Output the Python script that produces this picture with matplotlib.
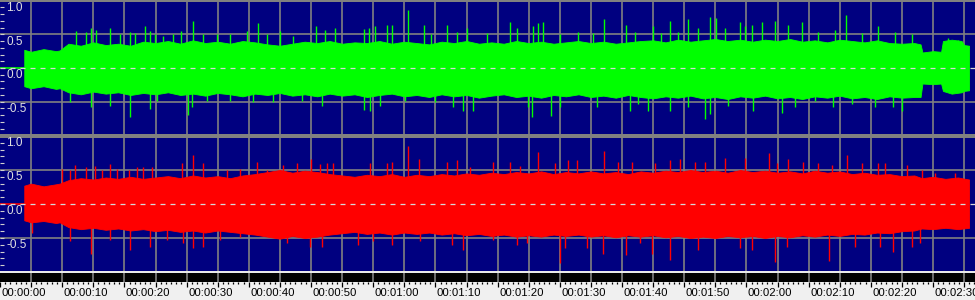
import numpy as np
import matplotlib
matplotlib.use("Agg")
import matplotlib.pyplot as plt
from matplotlib.transforms import blended_transform_factory

plt.rcParams['font.family'] = ['Liberation Sans', 'DejaVu Sans']

# ---- data (seconds / amplitude) ----
t_start = 3.9

mid_t = list(range(11, 148, 2))   # 11, 13, ... 147 s

green_body_t = [3.9, 5, 7, 9, 9.6] + mid_t + [148.0, 148.3, 150, 151.3, 151.6, 153, 154.6, 155.0, 155.8]
green_body_hi = ([0.27, 0.24, 0.28, 0.25, 0.26] +
                 [0.36, 0.33, 0.38, 0.34, 0.36, 0.33, 0.39, 0.37, 0.40, 0.36, 0.41, 0.37, 0.39, 0.36,
                  0.40, 0.38, 0.35, 0.33, 0.36, 0.39, 0.37, 0.40, 0.36, 0.38, 0.37, 0.40, 0.36, 0.39,
                  0.37, 0.35, 0.39, 0.37, 0.40, 0.36, 0.38, 0.36, 0.40, 0.37, 0.39, 0.36, 0.38, 0.40,
                  0.37, 0.39, 0.36, 0.38, 0.40, 0.41, 0.38, 0.42, 0.39, 0.41, 0.43, 0.40, 0.42, 0.39,
                  0.42, 0.40, 0.43, 0.39, 0.41, 0.38, 0.42, 0.40, 0.38, 0.41, 0.37, 0.36, 0.37] +
                 [0.35, 0.23, 0.25, 0.24, 0.40, 0.42, 0.40, 0.34, 0.33])
green_body_lo = ([-0.27, -0.30, -0.27, -0.31, -0.30] +
                 [-0.36, -0.39, -0.35, -0.38, -0.36, -0.40, -0.37, -0.39, -0.36, -0.40, -0.38, -0.41,
                  -0.37, -0.39, -0.42, -0.38, -0.40, -0.37, -0.41, -0.39, -0.42, -0.38, -0.41, -0.39,
                  -0.43, -0.40, -0.38, -0.42, -0.40, -0.43, -0.39, -0.42, -0.40, -0.44, -0.41, -0.39,
                  -0.43, -0.41, -0.44, -0.40, -0.42, -0.39, -0.43, -0.41, -0.44, -0.40, -0.43, -0.45,
                  -0.42, -0.44, -0.41, -0.45, -0.43, -0.46, -0.42, -0.44, -0.41, -0.45, -0.43, -0.46,
                  -0.42, -0.44, -0.41, -0.45, -0.43, -0.46, -0.42, -0.44, -0.43] +
                 [-0.43, -0.23, -0.24, -0.23, -0.34, -0.38, -0.36, -0.34, -0.33])

red_body_t = [3.9, 5, 7, 9, 9.6] + mid_t + [148.2, 150, 152, 154, 155.8]
red_body_hi = ([0.27, 0.30, 0.26, 0.29, 0.30] +
               [0.35, 0.38, 0.36, 0.39, 0.37, 0.40, 0.37, 0.39, 0.41, 0.38, 0.42, 0.39, 0.41, 0.38,
                0.42, 0.44, 0.47, 0.50, 0.46, 0.49, 0.47, 0.44, 0.42, 0.40, 0.43, 0.41, 0.44, 0.40,
                0.43, 0.41, 0.44, 0.42, 0.45, 0.43, 0.46, 0.44, 0.47, 0.45, 0.48, 0.44, 0.47, 0.45,
                0.48, 0.45, 0.47, 0.44, 0.48, 0.46, 0.49, 0.47, 0.50, 0.47, 0.49, 0.46, 0.50, 0.47,
                0.49, 0.46, 0.48, 0.45, 0.49, 0.46, 0.48, 0.44, 0.46, 0.43, 0.44, 0.41, 0.42] +
               [0.38, 0.40, 0.37, 0.39, 0.36])
red_body_lo = ([-0.24, -0.27, -0.25, -0.28, -0.27] +
               [-0.34, -0.37, -0.35, -0.38, -0.36, -0.39, -0.37, -0.40, -0.38, -0.41, -0.39, -0.42,
                -0.39, -0.41, -0.43, -0.45, -0.48, -0.51, -0.47, -0.50, -0.48, -0.45, -0.43, -0.41,
                -0.44, -0.42, -0.45, -0.42, -0.44, -0.42, -0.45, -0.43, -0.46, -0.44, -0.47, -0.45,
                -0.48, -0.46, -0.48, -0.45, -0.47, -0.45, -0.48, -0.46, -0.49, -0.46, -0.48, -0.46,
                -0.49, -0.47, -0.50, -0.48, -0.50, -0.47, -0.49, -0.47, -0.50, -0.47, -0.49, -0.46,
                -0.48, -0.45, -0.47, -0.44, -0.45, -0.42, -0.43, -0.40, -0.39] +
               [-0.36, -0.37, -0.35, -0.37, -0.35])

green_up_t = [12.2, 13.8, 14.6, 15.4, 17.7, 19.3, 20.9, 21.7, 23.3, 24.1, 24.9, 26.2, 27.8, 29.1,
              31.0, 32.6, 34.9, 37.0, 39.7, 41.5, 42.9, 45.0, 47.1, 50.8, 52.3, 53.9, 58.5, 59.3,
              60.3, 62.2, 63.0, 65.6, 68.2, 69.3, 71.9, 73.5, 75.1, 78.3, 82.0, 83.1, 85.7, 86.5,
              87.3, 90.0, 92.9, 95.3, 97.1, 100.6, 102.1, 105.0, 106.3, 107.7, 109.0, 110.6,
              112.2, 114.1, 115.1, 116.6, 119.0, 119.8, 120.9, 122.5, 124.6, 126.7, 128.9, 131.5,
              134.2, 136.0, 138.6, 141.2, 143.9, 146.6, 152.4, 154.0]
green_up_v = [0.55, 0.53, 0.59, 0.57, 0.60, 0.50, 0.53, 0.52, 0.62, 0.55, 0.50, 0.47, 0.50, 0.55,
              0.70, 0.50, 0.51, 0.50, 0.55, 0.67, 0.50, 0.55, 0.47, 0.62, 0.57, 0.59, 0.58, 0.59,
              0.62, 0.64, 0.64, 0.86, 0.63, 0.50, 0.64, 0.54, 0.60, 0.52, 0.68, 0.60, 0.62, 0.67,
              0.68, 0.50, 0.54, 0.52, 0.72, 0.64, 0.53, 0.62, 0.52, 0.70, 0.54, 0.72, 0.59, 0.75,
              0.74, 0.59, 0.68, 0.62, 0.63, 0.68, 0.69, 0.63, 0.68, 0.54, 0.57, 0.79, 0.52, 0.62,
              0.54, 0.50, 0.44, 0.41]
green_dn_t = [11.3, 14.6, 17.7, 20.9, 24.1, 25.2, 30.2, 30.9, 33.3, 37.0, 40.7, 43.9, 48.6, 51.8,
              58.5, 59.5, 61.1, 65.1, 69.9, 72.8, 74.4, 76.0, 84.9, 85.5, 88.6, 90.0, 96.0, 101.3,
              102.6, 104.2, 107.7, 110.6, 113.3, 114.1, 117.0, 121.1, 125.7, 127.8, 131.0, 133.9,
              137.0, 140.7, 143.6, 145.0]
green_dn_v = [-0.51, -0.58, -0.56, -0.73, -0.61, -0.49, -0.70, -0.58, -0.49, -0.49, -0.51, -0.51,
              -0.49, -0.56, -0.62, -0.63, -0.57, -0.49, -0.51, -0.58, -0.63, -0.63, -0.58, -0.73,
              -0.71, -0.58, -0.58, -0.63, -0.53, -0.63, -0.63, -0.58, -0.75, -0.68, -0.56, -0.63,
              -0.66, -0.58, -0.49, -0.58, -0.53, -0.58, -0.58, -0.63]

red_up_t = [10.0, 11.3, 12.1, 13.8, 15.3, 16.4, 17.7, 18.8, 20.7, 22.0, 23.0, 24.4, 29.3, 31.0,
            32.6, 36.5, 38.6, 41.3, 42.9, 45.5, 47.7, 50.0, 51.4, 52.6, 53.5, 59.5, 62.2, 63.0,
            65.6, 67.4, 71.9, 73.5, 75.6, 79.3, 82.0, 83.6, 86.5, 89.2, 91.3, 92.8, 97.1, 99.4,
            101.6, 105.3, 107.7, 109.3, 111.7, 113.3, 116.6, 119.8, 123.6, 124.9, 126.7, 129.1,
            131.5, 133.8, 136.2, 138.6, 141.2, 142.3, 145.8, 148.2, 150.3, 153.5]
red_up_v = [0.51, 0.50, 0.57, 0.55, 0.56, 0.50, 0.59, 0.51, 0.50, 0.55, 0.54, 0.54, 0.61, 0.72,
            0.60, 0.50, 0.51, 0.62, 0.50, 0.57, 0.60, 0.66, 0.59, 0.60, 0.60, 0.60, 0.60, 0.62,
            0.85, 0.66, 0.62, 0.64, 0.55, 0.62, 0.62, 0.56, 0.76, 0.60, 0.65, 0.65, 0.78, 0.62,
            0.62, 0.60, 0.65, 0.66, 0.62, 0.62, 0.67, 0.67, 0.75, 0.60, 0.66, 0.62, 0.60, 0.57,
            0.72, 0.60, 0.60, 0.61, 0.57, 0.50, 0.45, 0.46]
red_dn_t = [5.1, 11.3, 14.6, 17.7, 20.9, 24.1, 26.8, 29.4, 31.0, 32.6, 35.4, 38.6, 46.1, 49.8,
            51.8, 57.6, 60.0, 63.0, 67.5, 72.7, 74.4, 79.3, 83.1, 84.7, 90.0, 90.8, 94.4, 96.9,
            100.6, 102.9, 104.8, 107.7, 112.2, 119.0, 120.9, 124.6, 126.5, 133.3, 137.5, 141.5,
            143.6, 146.6, 147.9]
red_dn_v = [-0.42, -0.55, -0.73, -0.53, -0.68, -0.63, -0.53, -0.58, -0.65, -0.63, -0.53, -0.48,
            -0.58, -0.63, -0.63, -0.60, -0.55, -0.60, -0.55, -0.60, -0.68, -0.53, -0.60, -0.58,
            -0.87, -0.65, -0.65, -0.73, -0.75, -0.58, -0.73, -0.82, -0.68, -0.65, -0.68, -0.85,
            -0.63, -0.84, -0.63, -0.63, -0.70, -0.63, -0.58]

grid_secs = [5 * i for i in range(1, 32)]
ruler_secs = [0, 10, 20, 30, 40, 50, 60, 70, 80, 90, 100, 110, 120, 130, 140, 150]
ruler_labels = ["00:00:00", "00:00:10", "00:00:20", "00:00:30", "00:00:40", "00:00:50",
                "00:01:00", "00:01:10", "00:01:20", "00:01:30", "00:01:40", "00:01:50",
                "00:02:00", "00:02:10", "00:02:20", "00:02:30"]
amp_ticks = [1.0, 0.5, 0.0, -0.5]
amp_labels = ["1.0", "0.5", "0.0", "-0.5"]

# ---- layout in pixels ----
W, H = 975, 300
PX_PER_SEC = 6.22
X_MAX = W / PX_PER_SEC
NAVY = '#000080'
GRID = '#808080'


def px_axes(fig, top, bottom):
    return fig.add_axes([0, 1 - bottom / H, 1, (bottom - top) / H])


def draw_channel(ax, color, body_t, body_hi, body_lo, up_t, up_v, dn_t, dn_v, ylim):
    ax.set_facecolor(NAVY)
    ax.set_xlim(0, X_MAX)
    ax.set_ylim(*ylim)
    for s in grid_secs:
        ax.axvline(s, color=GRID, lw=1.2, zorder=1)
    for a in (0.5, -0.5):
        ax.axhline(a, color=GRID, lw=1.2, zorder=1)
    # silent lead-in
    ax.plot([0, t_start], [0, 0], color=color, lw=1.2, zorder=2)
    ax.fill_between(body_t, body_lo, body_hi, color=color, lw=0.6, edgecolor=color, zorder=2)
    ax.vlines(up_t, 0, up_v, color=color, lw=1.0, zorder=2)
    ax.vlines(dn_t, 0, dn_v, color=color, lw=1.0, zorder=2)
    ax.axhline(0, color='#d8d8d8', lw=0.9, ls=(0, (4, 4)), zorder=3)
    # left ruler marks
    ax.set_yticks(np.round(np.arange(-0.9, 1.0, 0.1), 1))
    ax.tick_params(axis='y', direction='in', length=3, width=0.8, color='#d0d0d0',
                   labelleft=False, left=True, pad=0)
    ax.set_xticks([])
    for sp in ax.spines.values():
        sp.set_visible(False)
    tr = blended_transform_factory(ax.transAxes, ax.transData)
    for v, lab in zip(amp_ticks, amp_labels):
        ax.text(6.5 / W, v - 0.02, lab, transform=tr, color='#e0e0e0', fontsize=8.5,
                va='top', ha='left', zorder=4)


fig = plt.figure(figsize=(W / 100, H / 100), dpi=100, facecolor=GRID)

ax_l = px_axes(fig, 1.5, 134)
draw_channel(ax_l, '#00ff00', green_body_t, green_body_hi, green_body_lo,
             green_up_t, green_up_v, green_dn_t, green_dn_v, (-66.5 / 68, 67 / 68))

ax_r = px_axes(fig, 138, 271)
draw_channel(ax_r, '#ff0000', red_body_t, red_body_hi, red_body_lo,
             red_up_t, red_up_v, red_dn_t, red_dn_v, (-67 / 68, 66 / 68))

# time ruler
ax_t = px_axes(fig, 271, 300)
ax_t.set_xlim(0, X_MAX)
ax_t.set_ylim(29, 0)
ax_t.axhspan(0, 2, color='#e8e8e8', lw=0)
ax_t.axhspan(2, 11, color='black', lw=0)
ax_t.axhspan(11, 29, color='#f0f0f0', lw=0)
ax_t.vlines(grid_secs, 2, 11, color=GRID, lw=1.2)
minor = [s / 6 * 5 for s in range(0, 190) if s % 6 != 0]
ax_t.vlines(minor, 11, 13, color='black', lw=0.9)
ax_t.vlines([0] + grid_secs, 11, 16, color='black', lw=0.9)
for s, lab in zip(ruler_secs, ruler_labels):
    ax_t.text(s + 0.25, 22.5, lab, color='black', fontsize=8.2, va='center', ha='left')
ax_t.set_xticks([])
ax_t.set_yticks([])
for sp in ax_t.spines.values():
    sp.set_visible(False)

fig.savefig('out.png', dpi=100, facecolor=GRID)
